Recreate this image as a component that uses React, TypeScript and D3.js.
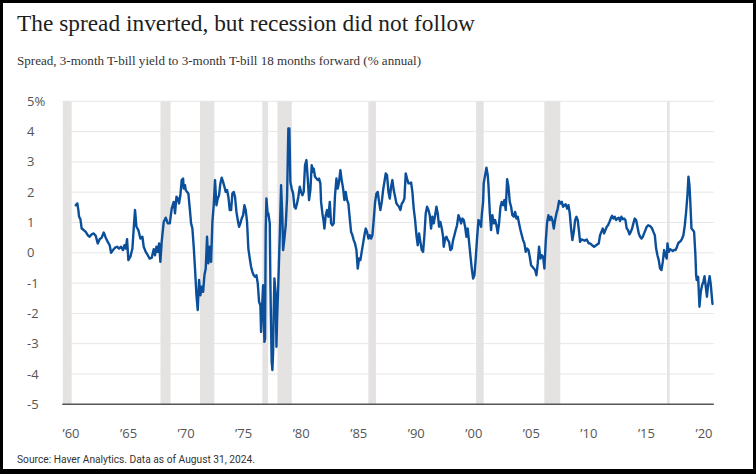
import React from 'react';
import * as d3 from 'd3';

const spreadYears = [
  1961.53, 1961.69, 1961.79, 1961.86, 1961.99, 1962.12, 1962.32, 1962.52, 1962.72, 1962.91,
  1963.11, 1963.31, 1963.51, 1963.71, 1963.90, 1964.10, 1964.30, 1964.50, 1964.70, 1964.89,
  1965.03, 1965.22, 1965.42, 1965.62, 1965.82, 1966.02, 1966.21, 1966.35, 1966.48, 1966.61,
  1966.74, 1966.94, 1967.14, 1967.27, 1967.40, 1967.54, 1967.73, 1967.93, 1968.13, 1968.26,
  1968.46, 1968.66, 1968.85, 1969.05, 1969.25, 1969.38, 1969.52, 1969.65, 1969.78, 1969.91,
  1970.04, 1970.24, 1970.44, 1970.64, 1970.84, 1971.03, 1971.23, 1971.36, 1971.50, 1971.63,
  1971.76, 1971.89, 1972.02, 1972.16, 1972.22, 1972.35,
  1972.42, 1972.55, 1972.68, 1972.82, 1972.95, 1973.08, 1973.21, 1973.34, 1973.48, 1973.61,
  1973.74, 1973.87, 1974.00, 1974.14, 1974.27, 1974.40, 1974.53, 1974.66, 1974.80, 1974.93,
  1975.06, 1975.19, 1975.32, 1975.46, 1975.59, 1975.72, 1975.85, 1975.98, 1976.12, 1976.25,
  1976.38, 1976.51, 1976.64, 1976.78, 1976.91, 1977.04, 1977.17, 1977.30, 1977.44, 1977.57,
  1977.70, 1977.83, 1977.96, 1978.10, 1978.23, 1978.36, 1978.49, 1978.62, 1978.76, 1978.89,
  1979.02, 1979.15, 1979.28, 1979.42, 1979.55, 1979.68, 1979.81, 1979.88, 1979.94, 1980.08,
  1980.21, 1980.27, 1980.34, 1980.41, 1980.54, 1980.60, 1980.74, 1980.80, 1980.87, 1980.93,
  1981.00, 1981.07, 1981.13, 1981.20, 1981.33, 1981.40, 1981.46, 1981.59, 1981.73, 1981.86,
  1981.99, 1982.06, 1982.19, 1982.32, 1982.45, 1982.58, 1982.68, 1982.78, 1982.91, 1983.05,
  1983.18, 1983.31, 1983.44, 1983.57, 1983.71, 1983.84, 1983.97, 1984.10, 1984.23, 1984.37,
  1984.50, 1984.63, 1984.76, 1984.89, 1985.03, 1985.09, 1985.22, 1985.36, 1985.49,
  1985.62, 1985.75, 1985.82, 1985.95, 1986.08, 1986.15, 1986.28, 1986.41, 1986.54, 1986.68,
  1986.81, 1986.94, 1987.07, 1987.20, 1987.34, 1987.47, 1987.60, 1987.73, 1987.86, 1988.00,
  1988.13, 1988.26, 1988.39, 1988.52, 1988.66, 1988.79, 1988.92, 1989.05, 1989.18, 1989.32,
  1989.45, 1989.58, 1989.71, 1989.84, 1989.98, 1990.11, 1990.24, 1990.37, 1990.51, 1990.64,
  1990.77, 1990.90, 1991.03, 1991.17, 1991.30, 1991.43, 1991.56, 1991.69, 1991.83, 1991.96,
  1992.09, 1992.22, 1992.35, 1992.49, 1992.62, 1992.75, 1992.88, 1993.01, 1993.15, 1993.28,
  1993.41, 1993.54, 1993.67, 1993.81, 1993.94, 1994.07, 1994.20, 1994.33, 1994.47, 1994.60,
  1994.73, 1994.86, 1994.99, 1995.13, 1995.26, 1995.39, 1995.52, 1995.65, 1995.79, 1995.92,
  1996.05, 1996.18, 1996.31, 1996.45, 1996.58, 1996.71, 1996.84, 1996.97, 1997.11, 1997.24,
  1997.37, 1997.50, 1997.63, 1997.77, 1997.90, 1997.96, 1998.10, 1998.23, 1998.36, 1998.49,
  1998.62, 1998.76, 1998.89, 1999.02, 1999.15, 1999.28, 1999.42, 1999.55, 1999.68, 1999.81,
  1999.94, 2000.08, 2000.21, 2000.34, 2000.47, 2000.60, 2000.74, 2000.87, 2001.00, 2001.13,
  2001.26, 2001.40, 2001.53, 2001.66, 2001.73, 2001.86, 2001.92, 2002.06, 2002.19, 2002.32,
  2002.39, 2002.52, 2002.65, 2002.78, 2002.91, 2003.05, 2003.18, 2003.31, 2003.44, 2003.58,
  2003.71, 2003.84, 2003.97, 2004.10, 2004.24, 2004.37, 2004.50, 2004.63, 2004.76, 2004.90,
  2005.03, 2005.16, 2005.29, 2005.42, 2005.56, 2005.69, 2005.82, 2005.95, 2006.08, 2006.22,
  2006.35, 2006.48, 2006.61, 2006.74, 2006.88, 2007.01, 2007.14, 2007.27, 2007.40, 2007.54,
  2007.67, 2007.80, 2007.93, 2008.06, 2008.20, 2008.33, 2008.46, 2008.59, 2008.72, 2008.86,
  2008.99, 2009.12, 2009.25, 2009.38, 2009.52, 2009.65, 2009.78, 2009.91, 2010.04, 2010.18,
  2010.31, 2010.44, 2010.57, 2010.70, 2010.84, 2010.97, 2011.10, 2011.23, 2011.36, 2011.46,
  2011.59, 2011.92, 2012.12, 2012.32,
  2012.45, 2012.65, 2012.85, 2013.05, 2013.18, 2013.31, 2013.44, 2013.57, 2013.71, 2013.84,
  2013.97, 2014.10, 2014.23, 2014.37, 2014.50, 2014.63, 2014.76, 2014.89, 2015.03, 2015.16,
  2015.29, 2015.42, 2015.55, 2015.69, 2015.82, 2015.95, 2016.08, 2016.21, 2016.35, 2016.48,
  2016.61, 2016.74, 2016.87, 2017.01, 2017.14, 2017.27, 2017.40, 2017.54, 2017.67, 2017.80,
  2017.93, 2018.06, 2018.20, 2018.33, 2018.46, 2018.59, 2018.72, 2018.86, 2018.99, 2019.12,
  2019.25, 2019.38, 2019.52, 2019.65, 2019.78, 2019.91, 2020.04, 2020.11, 2020.24, 2020.37,
  2020.51, 2020.64, 2020.77, 2020.90, 2021.03, 2021.17, 2021.30, 2021.43, 2021.56, 2021.69,
  2021.83, 2021.96, 2022.09, 2022.19, 2022.29, 2022.35, 2022.49, 2022.62, 2022.75, 2022.88,
  2022.95, 2023.01, 2023.15, 2023.28, 2023.41, 2023.54, 2023.67, 2023.78, 2023.90, 2024.02,
  2024.14, 2024.29, 2024.40, 2024.57,
];

const spreadValues = [
  1.57, 1.63, 1.41, 1.19, 1.11, 0.80, 0.75, 0.69, 0.58, 0.53,
  0.61, 0.64, 0.56, 0.31, 0.45, 0.50, 0.67, 0.50, 0.36, 0.25,
  0.00, 0.09, 0.17, 0.20, 0.14, 0.20, 0.09, 0.25, 0.14, 0.45,
  -0.24, -0.13, 0.14, 0.80, 1.41, 0.86, 0.75, 0.47, 0.53, 0.20,
  0.03, -0.08, -0.19, -0.17, 0.12, -0.08, 0.20, 0.03, 0.31, -0.30,
  0.36, 1.02, 1.16, 0.97, 0.97, 1.46, 1.68, 1.30, 1.85, 1.79,
  1.63, 1.90, 2.40, 2.45, 2.12, 2.23,
  2.07, 2.01, 1.96, 1.46, 0.97, 0.80, 0.20, -0.52, -1.40, -1.89,
  -0.90, -1.40, -1.12, -1.29, -0.74, -0.52, 0.53, -0.35, 0.20, -0.30,
  1.02, 1.57, 2.40, 1.57, 1.79, 1.90, 2.29, 2.48, 2.34, 2.18,
  2.01, 2.07, 1.85, 1.41, 1.41, 1.96, 2.01, 1.85, 1.35, 1.08,
  0.86, 0.97, 1.13, 1.24, 1.57, 1.41, 1.02, 0.14, -0.19, -0.46,
  -0.63, -0.74, -0.79, -0.74, -1.01, -1.62, -1.73, -2.61, -2.06, -1.07,
  -2.94, -2.83, 0.80, 1.79, 1.24, 1.30, 0.97, -0.96, -2.50, -3.60,
  -3.87, -3.27, -1.95, -0.85, -1.40, -3.10, -2.28, -0.96, 0.58, 2.23,
  1.13, 0.09, 0.47, 0.91, 1.79, 4.10, 4.10, 2.34, 2.12, 1.96,
  1.52, 1.46, 1.63, 1.85, 2.18, 2.01, 1.90, 2.01, 2.89, 3.06,
  2.45, 1.74, 2.07, 2.89, 2.67, 2.78, 2.51, 2.45, 2.40,
  2.45, 2.29, 1.68, 1.30, 1.02, 0.80, 1.24, 1.41, 1.19, 1.68,
  0.97, 0.91, 0.97, 1.90, 2.45, 2.12, 2.34, 2.73, 2.40, 2.12,
  1.74, 2.01, 1.74, 1.63, 1.13, 0.69, 0.58, 0.42, 0.31, 0.09,
  -0.52, -0.19, -0.24, 0.03, 0.31, 0.58, 0.80, 0.69, 0.47, 0.58,
  0.47, 0.58, 1.08, 1.68, 1.96, 2.01, 1.68, 1.41, 1.68, 2.07,
  2.34, 2.62, 2.56, 2.01, 1.79, 2.18, 2.40, 2.07, 1.85, 1.63,
  1.57, 1.52, 1.41, 1.63, 1.68, 1.79, 2.62, 2.45, 2.29, 2.29,
  2.32, 2.01, 1.46, 1.08, 0.58, 0.25, 0.64, 0.36, 0.09, 0.03,
  0.58, 1.30, 1.52, 1.41, 1.24, 0.80, 1.19, 0.97, 1.24, 1.52,
  1.30, 0.86, 1.02, 0.80, 0.53, 0.20, 0.47, 0.53, 0.42, 0.36,
  0.09, 0.14, 0.42, 0.58, 0.75, 0.91, 1.24, 1.13, 0.97, 1.13,
  1.08, 0.86, 0.53, 0.80, 0.36, -0.08, -0.52, -0.85, -0.74, -0.19,
  0.47, 1.08, 1.02, 0.86, 1.24, 1.68, 2.29, 2.56, 2.81, 2.56,
  2.23, 1.35, 0.75, 1.24, 0.97, 1.08, 0.91, 0.64, 0.97, 1.52,
  1.68, 1.57, 1.74, 1.41, 2.43, 2.18, 1.68, 1.52, 1.24, 1.19,
  1.35, 1.13, 1.19, 0.97, 0.75, 0.58, 0.42, 0.31, 0.03, 0.14,
  0.09, -0.13, -0.41, -0.46, -0.52, -0.57, -0.74, -0.35, 0.20, -0.19,
  -0.08, -0.13, -0.52, 0.36, 1.02, 1.24, 1.08, 1.19, 1.08, 0.80,
  1.08, 1.30, 1.46, 1.71, 1.63, 1.68, 1.52, 1.57, 1.60, 1.46,
  1.57, 1.30, 0.80, 0.42, 0.69, 1.08, 1.19, 1.08, 0.69, 0.36,
  0.44, 0.40, 0.44, 0.31,
  0.31, 0.25, 0.20, 0.25, 0.28, 0.31, 0.58, 0.69, 0.80, 0.64,
  0.75, 0.86, 0.91, 1.02, 1.13, 1.22, 1.13, 1.19, 1.08, 1.13,
  1.16, 1.05, 1.19, 1.11, 1.13, 1.08, 0.80, 0.75, 0.61, 0.69,
  0.80, 0.97, 1.13, 1.08, 0.86, 0.64, 0.53, 0.47, 0.53, 0.64,
  0.75, 0.86, 0.91, 0.89, 0.86, 0.80, 0.69, 0.58, 0.14, -0.08,
  -0.24, -0.52, -0.57, -0.30, 0.09, -0.08, -0.19, 0.31, 0.03, 0.12,
  0.09, 0.06, 0.09, 0.09, 0.17, 0.31, 0.36, 0.39, 0.47, 0.58,
  0.91, 1.35, 1.90, 2.51, 2.23, 1.85, 0.80, 0.75, 0.69, -0.08,
  -0.74, -0.90, -0.79, -1.78, -1.29, -1.07, -0.95, -0.77, -1.10, -1.45,
  -1.05, -0.77, -1.05, -1.69,
];

const recessionStarts = [1960.25, 1969.92, 1973.83, 1980.0, 1981.5, 1990.5, 2001.17, 2007.92, 2020.08];
const recessionEnds = [1961.13, 1970.92, 1975.25, 1980.58, 1982.92, 1991.25, 2001.92, 2009.5, 2020.33];

const yTickValues = [-5, -4, -3, -2, -1, 0, 1, 2, 3, 4, 5];
const xTickLabels = ['’60', '’65', '’70', '’75', '’80', '’85', '’90', '’00', '’05', '’10', '’15', '’20'];

const titleText = 'The spread inverted, but recession did not follow';
const subtitleText = 'Spread, 3-month T-bill yield to 3-month T-bill 18 months forward (% annual)';
const sourceText = 'Source: Haver Analytics. Data as of August 31, 2024.';

const W = 756;
const H = 474;

export default function App() {
  const x = d3.scaleLinear().domain([1960.2, 2024.7]).range([62.3, 713.8]);
  const y = d3.scaleLinear().domain([-5, 5]).range([404.3, 101.3]);
  const xLabelPos = d3.scalePoint<string>().domain(xTickLabels).range([71, 704]);

  const points = spreadYears.map((yr, i) => [yr, spreadValues[i]] as [number, number]);
  const line = d3
    .line<[number, number]>()
    .x((d) => x(d[0]))
    .y((d) => y(d[1]));

  const left = x.range()[0];
  const right = x.range()[1];

  return (
    <svg
      width={W}
      height={H}
      viewBox={`0 0 ${W} ${H}`}
      style={{ position: 'absolute', left: 0, top: 0, display: 'block', background: '#fff' }}
    >
      <rect x={0} y={0} width={W} height={H} fill="#fff" />
      <text
        x={17}
        y={31}
        fontFamily="'Liberation Serif', 'DejaVu Serif', serif"
        fontSize={22.5}
        fill="#1e1e1e"
        textLength={458}
        lengthAdjust="spacingAndGlyphs"
      >
        {titleText}
      </text>
      <text
        x={17}
        y={64.5}
        fontFamily="'Liberation Serif', 'DejaVu Serif', serif"
        fontSize={12.5}
        fill="#333"
        textLength={404}
        lengthAdjust="spacingAndGlyphs"
      >
        {subtitleText}
      </text>

      {yTickValues.map((v) =>
        v === -5 ? null : (
          <line key={'g' + v} x1={left} x2={right} y1={y(v)} y2={y(v)} stroke="#e6e6e6" strokeWidth={1} />
        )
      )}

      {recessionStarts.map((s, i) => (
        <rect
          key={'r' + i}
          x={x(s)}
          y={y(5)}
          width={x(recessionEnds[i]) - x(s)}
          height={y(-5) - y(5)}
          fill="#e5e2e2"
        />
      ))}

      <line x1={left} x2={right} y1={y(-5)} y2={y(-5)} stroke="#555" strokeWidth={1.4} />

      {yTickValues.map((v) => (
        <text
          key={'t' + v}
          x={27}
          y={y(v)}
          dy="0.35em"
          fontFamily="'Open Sans', 'DejaVu Sans', sans-serif"
          fontSize={13}
          fill="#555"
        >
          {v === 5 ? '5%' : String(v)}
        </text>
      ))}

      {xTickLabels.map((lab) => (
        <text
          key={'x' + lab}
          x={xLabelPos(lab)}
          y={438}
          textAnchor="middle"
          fontFamily="'Open Sans', 'DejaVu Sans', sans-serif"
          fontSize={13}
          fill="#555"
        >
          {lab}
        </text>
      ))}

      <path d={line(points) || ''} fill="none" stroke="#0b4f9b" strokeWidth={2.4} strokeLinejoin="round" strokeLinecap="round" />

      <text
        x={17}
        y={463}
        fontFamily="'Liberation Sans Narrow', 'Roboto', sans-serif"
        fontSize={11}
        fill="#333"
        textLength={238}
        lengthAdjust="spacingAndGlyphs"
      >
        {sourceText}
      </text>

      <rect x={1.5} y={1.5} width={W - 3} height={H - 3} fill="none" stroke="#000" strokeWidth={3} />
      <rect x={0} y={H - 5} width={W} height={5} fill="#000" />
    </svg>
  );
}
